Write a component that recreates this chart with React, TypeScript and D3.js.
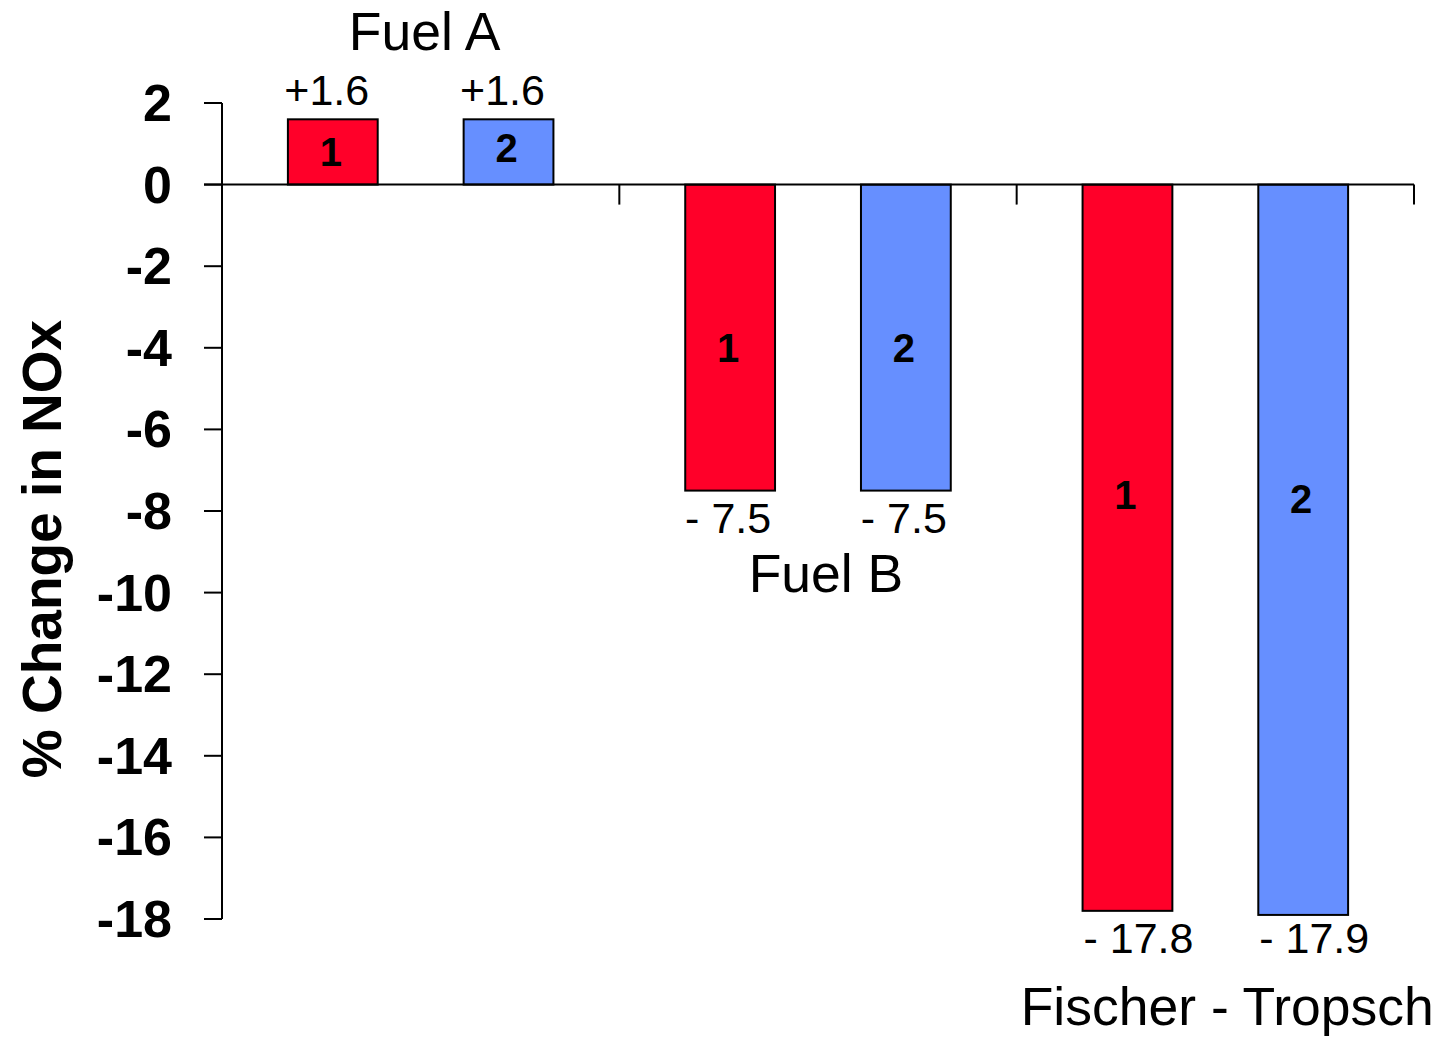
import React from "react";
import * as d3 from "d3";

const categories = ["Fuel A", "Fuel B", "Fischer - Tropsch"];
const series = ["1", "2"];
const values: number[][] = [
  [1.6, 1.6],
  [-7.5, -7.5],
  [-17.8, -17.9],
];
const valueLabels: string[][] = [
  ["+1.6", "+1.6"],
  ["- 7.5", "- 7.5"],
  ["- 17.8", "- 17.9"],
];
const innerLabelAt: number[][] = [
  [0.8, 0.9],
  [-4.0, -4.0],
  [-7.6, -7.7],
];
const yTicks = [2, 0, -2, -4, -6, -8, -10, -12, -14, -16, -18];
const seriesColors = ["#FF0029", "#668FFF"];

const W = 1440;
const H = 1038;
const FONT = "'Liberation Sans', Arial, Helvetica, sans-serif";

export default function App() {
  const y = d3.scaleLinear().domain([2, -18]).range([103, 919]);
  const x = d3.scaleBand<string>().domain(categories).range([222, 1414]).padding(0);
  const xs = d3
    .scaleBand<string>()
    .domain(series)
    .range([0, x.bandwidth()])
    .paddingInner(0.489)
    .paddingOuter(0.375);
  const y0 = y(0);

  // layout tweaks (not data)
  const catLabelPos = [
    { dx: 0.51, yy: 50 },
    { dx: 0.52, yy: 592 },
    { dx: 0.53, yy: 1025 },
  ];
  const valueLabelShift = [-6, -2, 11];

  return (
    <svg
      width={W}
      height={H}
      style={{ position: "absolute", left: 0, top: 0, background: "#fff" }}
      fontFamily={FONT}
    >
      {/* y axis */}
      <line x1={222} x2={222} y1={y(2)} y2={y(-18)} stroke="#000" strokeWidth={2} />
      {yTicks.map((t) => (
        <g key={t}>
          <line x1={204} x2={222} y1={y(t)} y2={y(t)} stroke="#000" strokeWidth={2} />
          <text
            x={172}
            y={y(t) + 18}
            textAnchor="end"
            fontSize={52}
            fontWeight="bold"
          >
            {t}
          </text>
        </g>
      ))}
      {/* bars */}
      {categories.map((c, ci) =>
        series.map((s, si) => {
          const v = values[ci][si];
          const bx = (x(c) as number) + (xs(s) as number);
          const bw = xs.bandwidth();
          const top = Math.min(y(v), y0);
          const h = Math.abs(y(v) - y0);
          const cx = bx + bw / 2;
          const vy = v >= 0 ? y(v) - 14 : y(values[ci][0]) + 42;
          return (
            <g key={c + s}>
              <rect
                x={bx}
                y={top}
                width={bw}
                height={h}
                fill={seriesColors[si]}
                stroke="#000"
                strokeWidth={2}
              />
              <text
                x={cx - 2}
                y={y(innerLabelAt[ci][si]) + 14}
                textAnchor="middle"
                fontSize={40}
                fontWeight="bold"
              >
                {s}
              </text>
              <text
                x={cx + valueLabelShift[ci]}
                y={vy}
                textAnchor="middle"
                fontSize={43}
              >
                {valueLabels[ci][si]}
              </text>
            </g>
          );
        })
      )}
      {/* x zero line with category ticks */}
      <line x1={204} x2={1414} y1={y0} y2={y0} stroke="#000" strokeWidth={2} />
      {categories.map((c) => {
        const xe = (x(c) as number) + x.bandwidth();
        return <line key={c} x1={xe} x2={xe} y1={y0} y2={y0 + 20} stroke="#000" strokeWidth={2} />;
      })}
      {/* category labels */}
      {categories.map((c, ci) => (
        <text
          key={c}
          x={(x(c) as number) + x.bandwidth() * catLabelPos[ci].dx}
          y={catLabelPos[ci].yy}
          textAnchor="middle"
          fontSize={53.5}
        >
          {c}
        </text>
      ))}
      {/* y title */}
      <text
        transform={`translate(61, 549) rotate(-90)`}
        textAnchor="middle"
        fontSize={55}
        fontWeight="bold"
      >
        % Change in NOx
      </text>
    </svg>
  );
}
